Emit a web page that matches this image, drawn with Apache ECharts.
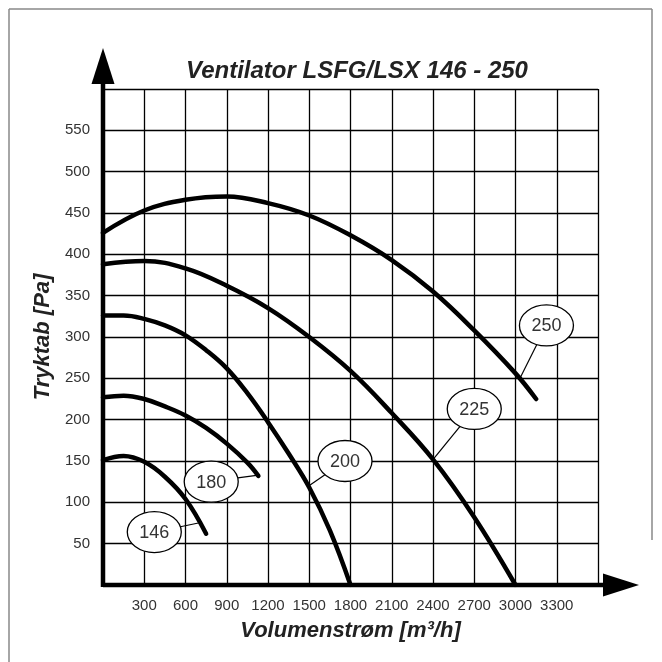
<!DOCTYPE html>
<html>
<head>
<meta charset="utf-8">
<script src="https://cdn.jsdelivr.net/npm/echarts@6/dist/echarts.min.js"></script>
<style>
  html, body { margin: 0; padding: 0; background: #fff; }
  #main { width: 662px; height: 662px; }
</style>
</head>
<body>
<div id="main"></div>
<script>
// tick labels
var xTicks = [300, 600, 900, 1200, 1500, 1800, 2100, 2400, 2700, 3000, 3300]
var yTicks = [50, 100, 150, 200, 250, 300, 350, 400, 450, 500, 550]

// fan curves, flow [m3/h] / pressure [Pa]
var flow146 = [0, 150, 300, 450, 600, 750]
var p146 = [151, 156, 149, 131, 104, 62]
var flow180 = [0, 150, 300, 450, 600, 750, 900, 1050, 1130]
var p180 = [227, 229, 225, 216, 205, 190, 171, 148, 132]
var flow200 = [0, 150, 300, 450, 600, 750, 900, 1050, 1200, 1350, 1500, 1650, 1800]
var p200 = [326, 326, 322, 314, 302, 284, 262, 232, 197, 159, 118, 66, 0]
var flow225 = [0, 300, 600, 900, 1200, 1500, 1800, 2100, 2400, 2700, 3000]
var p225 = [388, 392, 383, 362, 335, 300, 259, 208, 152, 82, 0]
var flow250 = [0, 300, 600, 900, 1200, 1500, 1800, 2100, 2400, 2700, 3000, 3150]
var p250 = [426, 453, 466, 470, 462, 447, 423, 393, 355, 308, 256, 225]

// curve labels: bubble centre and the point on the curve it points to
var labelNames = ['146', '180', '200', '225', '250']
var labelX = [373, 787, 1760, 2700, 3225]
var labelY = [64, 125, 150, 213, 314]
var pointX = [694, 1130, 1506, 2401, 3038]
var pointY = [75, 133, 121, 152, 252]

var font = '"Liberation Sans", Arial, sans-serif'

function pairs(xs, ys) {
    return xs.map(function (x, i) { return [x, ys[i]] })
}

function curve(name, xs, ys) {
    return {
        name: name,
        type: 'line',
        data: pairs(xs, ys),
        smooth: 0.4,
        symbol: 'none',
        lineStyle: { color: '#000', width: 4.5, cap: 'round' },
        z: 3
    }
}

var labelData = labelNames.map(function (n, i) {
    return [labelX[i], labelY[i], pointX[i], pointY[i], n]
})

var chart = echarts.init(document.getElementById('main'))

var option = {
    animation: false,
    backgroundColor: '#fff',
    title: {
        text: 'Ventilator LSFG/LSX 146 - 250',
        left: 352,
        top: 54,
        textAlign: 'center',
        textStyle: {
            fontFamily: font,
            fontSize: 24,
            fontWeight: 'bold',
            fontStyle: 'italic',
            color: '#222'
        }
    },
    grid: { left: 103, top: 89, width: 495, height: 496 },
    xAxis: {
        type: 'value',
        min: 0,
        max: 3600,
        interval: 300,
        name: 'Volumenstrøm [m³/h]',
        nameLocation: 'middle',
        nameGap: 35,
        nameTextStyle: {
            fontFamily: font, fontSize: 22, fontWeight: 'bold', fontStyle: 'italic', color: '#222'
        },
        axisLine: { show: false },
        axisTick: { show: false },
        axisLabel: {
            margin: 13,
            fontFamily: font,
            fontSize: 15,
            color: '#333',
            formatter: function (v) { return xTicks.indexOf(v) >= 0 ? String(v) : '' }
        },
        splitLine: { show: true, lineStyle: { color: '#000', width: 1.3 } }
    },
    yAxis: {
        type: 'value',
        min: 0,
        max: 600,
        interval: 50,
        name: 'Tryktab [Pa]',
        nameLocation: 'middle',
        nameGap: 44,
        nameTextStyle: {
            fontFamily: font, fontSize: 22, fontWeight: 'bold', fontStyle: 'italic', color: '#222'
        },
        axisLine: { show: false },
        axisTick: { show: false },
        axisLabel: {
            margin: 13,
            fontFamily: font,
            fontSize: 15,
            color: '#333',
            formatter: function (v) { return yTicks.indexOf(v) >= 0 ? String(v) : '' }
        },
        splitLine: { show: true, lineStyle: { color: '#000', width: 1.3 } }
    },
    series: [
        curve('146', flow146, p146),
        curve('180', flow180, p180),
        curve('200', flow200, p200),
        curve('225', flow225, p225),
        curve('250', flow250, p250),
        {
            type: 'custom',
            z: 5,
            data: labelData,
            renderItem: function (params, api) {
                var RX = 27, RY = 20.5
                var c = api.coord([api.value(0), api.value(1)])
                var t = api.coord([api.value(2), api.value(3)])
                var dx = t[0] - c[0], dy = t[1] - c[1]
                var k = 1 / Math.sqrt((dx / RX) * (dx / RX) + (dy / RY) * (dy / RY))
                return {
                    type: 'group',
                    children: [
                        {
                            type: 'line',
                            shape: { x1: c[0] + dx * k, y1: c[1] + dy * k, x2: t[0], y2: t[1] },
                            style: { stroke: '#000', lineWidth: 1.2 }
                        },
                        {
                            type: 'ellipse',
                            shape: { cx: c[0], cy: c[1], rx: RX, ry: RY },
                            style: { fill: '#fff', stroke: '#000', lineWidth: 1.3 }
                        },
                        {
                            type: 'text',
                            style: {
                                text: labelNames[params.dataIndex],
                                x: c[0], y: c[1] + 1,
                                align: 'center', verticalAlign: 'middle',
                                font: '18px ' + font,
                                fill: '#333'
                            }
                        }
                    ]
                }
            }
        }
    ]
}

chart.setOption(option)

// thick axes with arrow heads, plus the page frame
var o = chart.convertToPixel({ gridIndex: 0 }, [0, 0])
var e = chart.convertToPixel({ gridIndex: 0 }, [3600, 600])
chart.setOption({
    graphic: [
        { type: 'line', shape: { x1: 9, y1: 9, x2: 9, y2: 662 }, style: { stroke: '#888', lineWidth: 1.5 } },
        { type: 'line', shape: { x1: 9, y1: 9, x2: 652, y2: 9 }, style: { stroke: '#888', lineWidth: 1.5 } },
        { type: 'line', shape: { x1: 652, y1: 9, x2: 652, y2: 540 }, style: { stroke: '#888', lineWidth: 1.5 } },
        { type: 'line', z: 10, shape: { x1: o[0], y1: o[1], x2: e[0] + 6, y2: o[1] }, style: { stroke: '#000', lineWidth: 4.5 } },
        { type: 'line', z: 10, shape: { x1: o[0], y1: o[1] + 2, x2: o[0], y2: e[1] - 6 }, style: { stroke: '#000', lineWidth: 4.5 } },
        { type: 'polygon', z: 10, shape: { points: [[e[0] + 5, o[1] - 11.5], [e[0] + 41, o[1]], [e[0] + 5, o[1] + 11.5]] }, style: { fill: '#000' } },
        { type: 'polygon', z: 10, shape: { points: [[o[0] - 11.5, e[1] - 5], [o[0], e[1] - 41], [o[0] + 11.5, e[1] - 5]] }, style: { fill: '#000' } }
    ]
})
</script>
</body>
</html>
